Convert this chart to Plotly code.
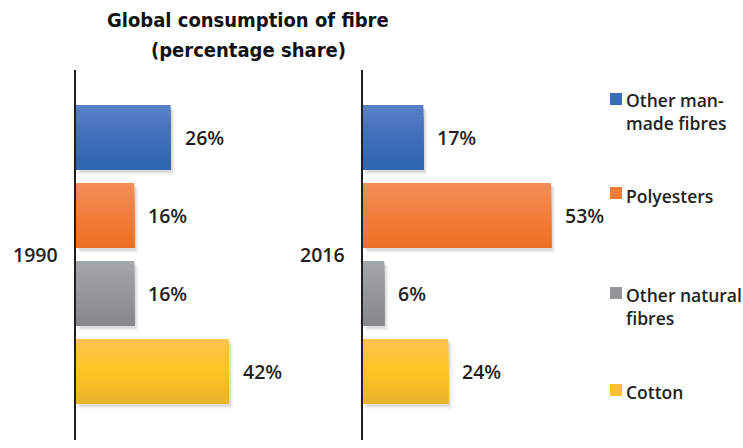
import plotly.graph_objects as go

# ---- data ----
categories = ["Other man-made fibres", "Polyesters", "Other natural fibres", "Cotton"]
legend_labels = ["Other man-<br>made fibres", "Polyesters", "Other natural<br>fibres", "Cotton"]
years = ["1990", "2016"]
share_1990 = [26, 16, 16, 42]
share_2016 = [17, 53, 6, 24]
title_lines = ["Global consumption of fibre", "(percentage share)"]

# gradient colours per category: (top, middle, bottom)
grad_colors = [
    ("#5b80c6", "#3f6fbb", "#2e64b2"),
    ("#f58e5b", "#f27d3c", "#ee6f23"),
    ("#a4a7a9", "#95989a", "#85888a"),
    ("#fdc24e", "#ffc422", "#e9b22b"),
]
legend_colors = ["#3a6cb9", "#f27b36", "#939698", "#fdc02e"]

TEXT = "#231f20"
FONT = "Open Sans, Liberation Sans, Arial, sans-serif"
TITLE_FONT = "DejaVu Sans Condensed, Liberation Sans Narrow, Arial Narrow, sans-serif"


def hex2rgb(h):
    h = h.lstrip("#")
    return tuple(int(h[i:i + 2], 16) for i in (0, 2, 4))


def interp(c1, c2, t):
    a, b = hex2rgb(c1), hex2rgb(c2)
    return "rgb(%d,%d,%d)" % tuple(round(a[i] + (b[i] - a[i]) * t) for i in range(3))


def grad(stops, t):
    top, mid, bot = stops
    if t < 0.5:
        return interp(top, mid, t / 0.5)
    return interp(mid, bot, (t - 0.5) / 0.5)


fig = go.Figure()
ypos = list(range(len(categories)))
BAR_W = 0.833
N = 16

for p, (vals, xa, ya) in enumerate([(share_1990, "x", "y"), (share_2016, "x2", "y2")]):
    # soft shadow layers
    for shift, yshift, alpha in [(1.1, 0.06, 0.05), (0.6, 0.035, 0.09)]:
        fig.add_trace(go.Bar(
            x=vals, y=ypos, base=shift, orientation="h",
            width=BAR_W, offset=-BAR_W / 2 + yshift,
            marker=dict(color="rgba(0,0,0,%s)" % alpha, line=dict(width=0)),
            xaxis=xa, yaxis=ya, showlegend=False, hoverinfo="skip",
        ))
    # gradient: each slice runs from its start to the bar bottom, later ones on top
    for k in range(N):
        t = (k + 0.5) / N
        fig.add_trace(go.Bar(
            x=vals, y=ypos, orientation="h",
            width=BAR_W - k * BAR_W / N, offset=-BAR_W / 2 + k * BAR_W / N,
            marker=dict(color=[grad(grad_colors[i], t) for i in range(len(categories))],
                        line=dict(width=0)),
            xaxis=xa, yaxis=ya, showlegend=False, hoverinfo="skip",
        ))
    # value labels
    for i, v in enumerate(vals):
        fig.add_annotation(
            x=v, y=ypos[i], xref=xa, yref=ya, text=f"{v}%",
            showarrow=False, xanchor="left", yanchor="middle", xshift=12,
            font=dict(family=FONT, size=19.5, color=TEXT, weight=600),
        )

# year labels
for yr, xp in zip(years, [35 / 743, 322 / 743]):
    fig.add_annotation(
        x=xp, y=1.5, xref="paper", yref="y", text=yr, showarrow=False,
        xanchor="center", yanchor="middle",
        font=dict(family=FONT, size=19.5, color=TEXT, weight=600),
    )

# title (two lines)
for line, yc in zip(title_lines, [20, 50]):
    fig.add_annotation(
        x=248 / 743, y=1 - yc / 448, xref="paper", yref="paper",
        text=line, showarrow=False, xanchor="center", yanchor="middle",
        font=dict(family=TITLE_FONT, size=20, color="#111111", weight=900),
    )

# legend (squares + labels)
leg_sq_top = [93, 187, 287, 384]
leg_txt_mid = [111.5, 196, 306, 392]
for i in range(len(categories)):
    fig.add_shape(
        type="rect", xref="paper", yref="paper",
        x0=610 / 743, x1=622 / 743,
        y0=1 - (leg_sq_top[i] + 12) / 448, y1=1 - leg_sq_top[i] / 448,
        fillcolor=legend_colors[i], line=dict(width=0),
    )
    fig.add_annotation(
        x=626 / 743, y=1 - leg_txt_mid[i] / 448, xref="paper", yref="paper",
        text=legend_labels[i], showarrow=False, align="left",
        xanchor="left", yanchor="middle", xshift=-2,
        font=dict(family=FONT, size=17.5, color=TEXT, weight=600),
    )

y_dom = [1 - 440 / 448, 1 - 70 / 448]
yrange = [3.878, -0.865]
axis_common = dict(showgrid=False, zeroline=False, showticklabels=False, ticks="")
fig.update_layout(
    width=743, height=448,
    margin=dict(l=0, r=0, t=0, b=0),
    paper_bgcolor="white", plot_bgcolor="white",
    barmode="overlay", showlegend=False,
    xaxis=dict(domain=[76 / 743, (76 + 60 * 3.64) / 743], range=[0, 60], visible=False),
    xaxis2=dict(domain=[363 / 743, (363 + 60 * 3.55) / 743], range=[0, 60], visible=False),
    yaxis=dict(domain=y_dom, range=yrange, anchor="x", showline=True,
               linecolor=TEXT, linewidth=1.5, **axis_common),
    yaxis2=dict(domain=y_dom, range=yrange, anchor="x2", showline=True,
                linecolor=TEXT, linewidth=1.5, **axis_common),
)

fig.write_html("out.html")
